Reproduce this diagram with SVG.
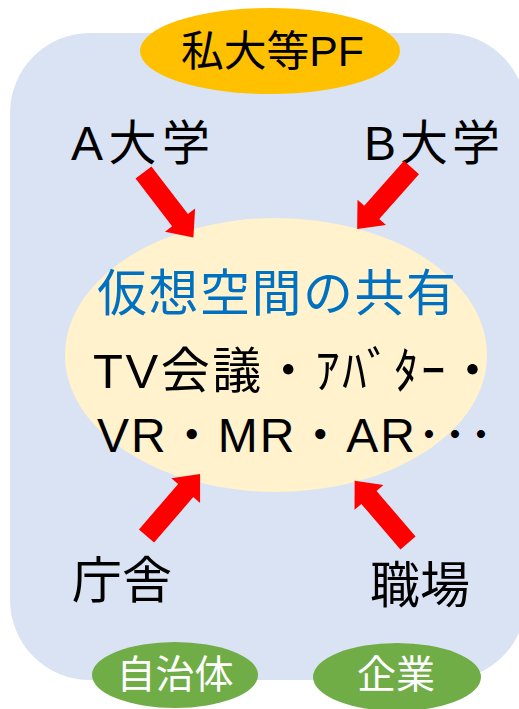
<svg xmlns="http://www.w3.org/2000/svg" width="519" height="709" viewBox="0 0 519 709">
<style>
.t{font-family:"Liberation Sans","Noto Sans CJK JP",sans-serif;}
.blk{fill:#000;}
.arrow{fill:#FF0000;}
</style>
<defs>
<path id="arr" d="M0,-10 L60,-10 L60,-19 L82,0 L60,19 L60,10 L0,10 Z"/>
</defs>
<rect id="bg" x="10" y="33" width="516" height="647" rx="80" ry="80" fill="#DAE3F3"/>
<g id="pf">
<ellipse cx="270" cy="51" rx="130" ry="43" fill="#FFC000"/>
<text class="t blk" x="181" y="66" font-size="42" textLength="183" lengthAdjust="spacingAndGlyphs">私大等PF</text>
</g>
<g id="center">
<ellipse cx="276" cy="355" rx="211" ry="137" fill="#FFF2CC"/>
<text class="t" x="97" y="311" font-size="50" fill="#0070C0" textLength="359">仮想空間の共有</text>
<text class="t blk" x="93" y="388" font-size="49" textLength="404">TV会議・ｱﾊﾞﾀｰ・</text>
<text class="t blk" x="97" y="452" font-size="48" textLength="396">VR・MR・AR･･･</text>
</g>
<g id="a-univ"><text class="t blk" x="71" y="160" font-size="48" textLength="139">A大学</text></g>
<g id="b-univ"><text class="t blk" x="364" y="160" font-size="48" textLength="136">B大学</text></g>
<g id="chosha"><text class="t blk" x="122" y="598" font-size="50" text-anchor="middle">庁舎</text></g>
<g id="shokuba"><text class="t blk" x="420" y="603" font-size="50" text-anchor="middle">職場</text></g>
<g id="jichitai">
<ellipse cx="175" cy="675" rx="83" ry="33" fill="#70AD47"/>
<text class="t" x="175" y="688" font-size="39" fill="#fff" text-anchor="middle">自治体</text>
</g>
<g id="kigyo">
<ellipse cx="397" cy="677" rx="84" ry="34" fill="#70AD47"/>
<text class="t" x="396" y="688" font-size="39" fill="#fff" text-anchor="middle">企業</text>
</g>
<g id="connectors" class="arrow">
<use href="#arr" transform="translate(143.5,172.5) rotate(52.5)"/>
<use href="#arr" transform="translate(411.5,167.5) rotate(131.5)"/>
<use href="#arr" transform="translate(146.5,536) rotate(-49.2)"/>
<use href="#arr" transform="translate(408,543) rotate(-130.6)"/>
</g>
</svg>
